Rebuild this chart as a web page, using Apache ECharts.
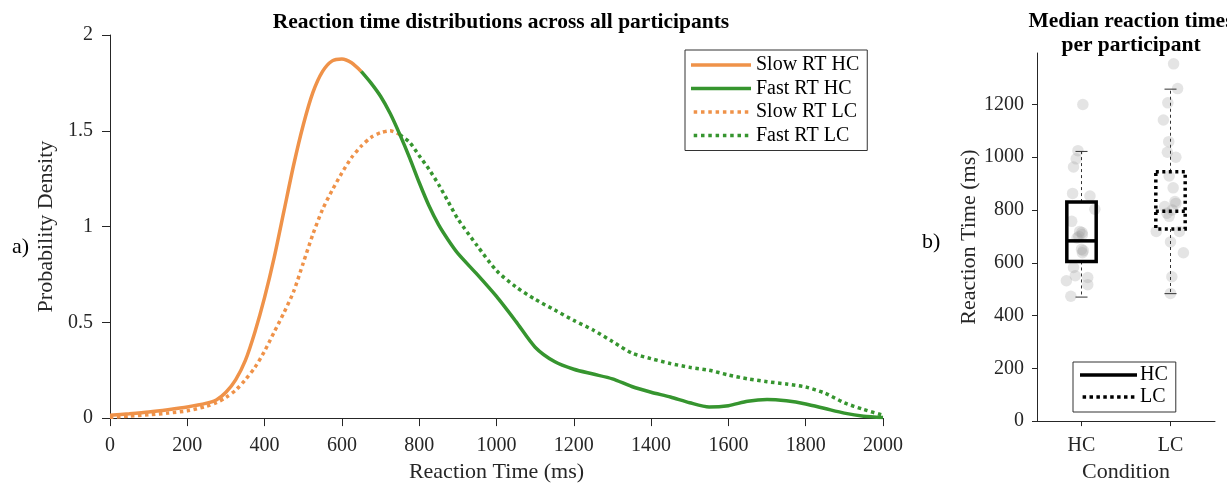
<!DOCTYPE html>
<html>
<head>
<meta charset="utf-8">
<script src="https://cdn.jsdelivr.net/npm/echarts@6/dist/echarts.min.js"></script>
<style>
  html, body { margin: 0; padding: 0; background: #ffffff; }
  #chart { width: 1227px; height: 488px; }
</style>
</head>
<body>
<div id="chart"></div>
<script>
// Reaction-time grid (ms) shared by both density curves
const rtGrid = [0, 50, 100, 150, 200, 250,
  275, 300, 325, 350, 375, 400, 425, 450, 475, 500, 525, 550, 575, 600, 625, 650,
  675, 700, 725, 750, 775, 800, 825, 850, 875, 900,
  950, 1000, 1050, 1100, 1150, 1200, 1250, 1300, 1350, 1400, 1450, 1500, 1550,
  1600, 1650, 1700, 1750, 1800, 1850, 1900, 1950, 2000];

// Probability density, high-confidence trials
const densityHC = [0.015, 0.023, 0.032, 0.044, 0.058, 0.078,
  0.095, 0.135, 0.20, 0.30, 0.45, 0.63, 0.84, 1.08, 1.32, 1.53, 1.70, 1.81, 1.865, 1.875, 1.855, 1.81,
  1.75, 1.68, 1.59, 1.48, 1.36, 1.23, 1.11, 1.01, 0.93, 0.86,
  0.75, 0.635, 0.505, 0.37, 0.295, 0.255, 0.23, 0.205, 0.165, 0.135, 0.11, 0.08, 0.058,
  0.065, 0.088, 0.097, 0.09, 0.074, 0.05, 0.026, 0.01, 0.003];

// Probability density, low-confidence trials
const densityLC = [0.004, 0.01, 0.017, 0.026, 0.038, 0.062,
  0.08, 0.108, 0.145, 0.20, 0.265, 0.35, 0.45, 0.55, 0.66, 0.81, 0.96, 1.09, 1.19, 1.28, 1.36, 1.42,
  1.465, 1.49, 1.50, 1.48, 1.44, 1.37, 1.30, 1.22, 1.13, 1.04,
  0.90, 0.77, 0.685, 0.62, 0.565, 0.51, 0.46, 0.40, 0.34, 0.31, 0.285, 0.265, 0.25,
  0.225, 0.205, 0.19, 0.178, 0.162, 0.13, 0.08, 0.045, 0.015];

// Median split between slow and fast responses (ms)
const splitHC = 650;
const splitLC = 750;

const xTicks = [0, 200, 400, 600, 800, 1000, 1200, 1400, 1600, 1800, 2000];
const conditions = ['HC', 'LC'];

// Per-participant median RTs (ms) and horizontal jitter (category units)
const medianHC = [1200, 1025, 994, 963, 863, 853, 803, 757, 719, 715, 707, 700, 694, 651, 646, 638, 582, 551, 544, 532, 517, 473];
const jitterHC = [0.015, -0.04, -0.06, -0.09, -0.10, 0.095, 0.15, -0.11, -0.02, 0.005, 0.01, -0.03, -0.05, 0.0, 0.02, 0.01, -0.09, -0.07, 0.07, -0.17, 0.07, -0.12];
const medianLC = [1354, 1260, 1206, 1141, 1059, 1019, 1000, 929, 884, 832, 825, 813, 800, 788, 776, 719, 719, 679, 638, 547, 484];
const jitterLC = [0.035, 0.08, -0.03, -0.08, -0.02, -0.035, 0.06, -0.015, 0.03, 0.05, 0.06, -0.065, 0.02, -0.04, -0.015, -0.16, 0.10, 0.0, 0.145, 0.015, 0.0];

// Box statistics: [lower whisker, Q1, median, Q3, upper whisker]
const boxHC = [470, 605, 683, 830, 1022];
const boxLC = [483, 728, 795, 945, 1258];

const rightTicks = [0, 200, 400, 600, 800, 1000, 1200];

const ORANGE = '#EF9249';
const GREEN = '#36952F';
const INK = '#262626';
const SERIF = '"Liberation Serif", "Times New Roman", serif';

function segment(ys, from, to) {
  const out = [];
  rtGrid.forEach((x, i) => { if (x >= from && x <= to) out.push([x, ys[i]]); });
  return out;
}

function lineSeries(name, data, color, type) {
  return {
    name, type: 'line', xAxisIndex: 0, yAxisIndex: 0,
    data, smooth: 0.25, symbol: 'none', silent: true,
    lineStyle: { color, width: 3.5, type, cap: 'butt' },
    itemStyle: { color },
    z: type === 'solid' ? 4 : 3
  };
}

function boxRenderer(dash) {
  return function (params, api) {
    const x = api.value(0);
    const lo = api.coord([x, api.value(1)]);
    const q1 = api.coord([x, api.value(2)]);
    const md = api.coord([x, api.value(3)]);
    const q3 = api.coord([x, api.value(4)]);
    const hi = api.coord([x, api.value(5)]);
    const cx = lo[0];
    const half = api.size([1, 0])[0] * 0.165;
    const whisker = { stroke: '#333', lineWidth: 1, lineDash: [3, 3] };
    const cap = { stroke: '#333', lineWidth: 1 };
    const boxStyle = { stroke: '#000', lineWidth: 3.5, fill: null, lineDash: dash, lineCap: 'butt' };
    return {
      type: 'group',
      children: [
        { type: 'line', shape: { x1: cx, y1: q3[1], x2: cx, y2: hi[1] }, style: whisker },
        { type: 'line', shape: { x1: cx, y1: q1[1], x2: cx, y2: lo[1] }, style: whisker },
        { type: 'line', shape: { x1: cx - 6, y1: hi[1], x2: cx + 6, y2: hi[1] }, style: cap },
        { type: 'line', shape: { x1: cx - 6, y1: lo[1], x2: cx + 6, y2: lo[1] }, style: cap },
        { type: 'rect', shape: { x: cx - half, y: q3[1], width: 2 * half, height: q1[1] - q3[1] }, style: boxStyle },
        { type: 'line', shape: { x1: cx - half, y1: md[1], x2: cx + half, y2: md[1] }, style: boxStyle }
      ]
    };
  };
}

// Legend keys: a solid bar and a row of square dots
function dotsPath(len, size, step) {
  let d = 'path://';
  for (let x = 0; x + size <= len + 0.01; x += step) d += 'M' + x.toFixed(1) + ',0h' + size + 'v' + size + 'h-' + size + 'z';
  return d;
}
const solidKey = 'path://M0,0h60v3.5h-60z';
const dottedKey = dotsPath(60, 3.5, 7.3);
const solidKeyBox = 'path://M0,0h57v3.5h-57z';
const dottedKeyBox = dotsPath(57, 3.5, 6.9);

const plain = v => String(v);
const axisText = { color: INK, fontFamily: SERIF, fontSize: 20 };
const nameText = { color: INK, fontFamily: SERIF, fontSize: 22 };

const chart = echarts.init(document.getElementById('chart'), null, { renderer: 'canvas' });

chart.setOption({
  animation: false,
  backgroundColor: '#ffffff',
  title: [
    {
      text: 'Reaction time distributions across all participants',
      left: 496, top: 6, textAlign: 'center',
      textStyle: { fontFamily: SERIF, fontSize: 21.5, fontWeight: 'bold', color: '#000' }
    },
    {
      text: 'Median reaction times\nper participant',
      left: 1126, top: 4, textAlign: 'center',
      textStyle: { fontFamily: SERIF, fontSize: 21.5, fontWeight: 'bold', color: '#000', lineHeight: 24 }
    }
  ],
  grid: [
    { left: 110, top: 35, width: 773, height: 388 },
    { left: 1037, top: 53, width: 178, height: 374 }
  ],
  legend: [
    {
      orient: 'vertical', left: 685, top: 50,
      data: [
        { name: 'Slow RT HC', icon: solidKey },
        { name: 'Fast RT HC', icon: solidKey },
        { name: 'Slow RT LC', icon: dottedKey },
        { name: 'Fast RT LC', icon: dottedKey }
      ],
      itemWidth: 60, itemHeight: 3.5, itemGap: 3.5,
      padding: [5, 8, 5, 6],
      borderColor: '#333', borderWidth: 1,
      textStyle: { fontFamily: SERIF, fontSize: 20, color: '#000', lineHeight: 20 },
      selectedMode: false
    },
    {
      orient: 'vertical', left: 1073, top: 362,
      data: [
        { name: 'HC', icon: solidKeyBox, itemStyle: { color: '#000' } },
        { name: 'LC', icon: dottedKeyBox, itemStyle: { color: '#000' } }
      ],
      itemWidth: 57, itemHeight: 3.5, itemGap: 2,
      padding: [3, 8, 5, 7],
      borderColor: '#333', borderWidth: 1,
      textStyle: { fontFamily: SERIF, fontSize: 20, color: '#000', lineHeight: 20, padding: [0, 0, 0, -2] },
      selectedMode: false
    }
  ],
  xAxis: [
    {
      type: 'value', gridIndex: 0, min: 0, max: 2000, interval: 200,
      name: 'Reaction Time (ms)', nameLocation: 'middle', nameGap: 40, nameTextStyle: nameText,
      axisLine: { lineStyle: { color: INK, width: 1 } },
      axisTick: { show: true, length: 8, lineStyle: { color: INK }, customValues: xTicks },
      axisLabel: Object.assign({ margin: 18, customValues: xTicks, formatter: plain }, axisText),
      splitLine: { show: false }
    },
    {
      type: 'category', gridIndex: 1, data: conditions, boundaryGap: true,
      name: 'Condition', nameLocation: 'middle', nameGap: 35, nameTextStyle: nameText,
      axisLine: { lineStyle: { color: INK, width: 1 } },
      axisTick: { show: true, length: 5, alignWithLabel: true, lineStyle: { color: INK } },
      axisLabel: Object.assign({ margin: 15 }, axisText),
      splitLine: { show: false }
    },
    {
      type: 'value', gridIndex: 1, min: 0.5, max: 2.5, show: false
    }
  ],
  yAxis: [
    {
      type: 'value', gridIndex: 0, min: 0, max: 2, interval: 0.5,
      name: 'Probability Density', nameLocation: 'middle', nameGap: 40, nameTextStyle: nameText,
      axisLine: { show: true, lineStyle: { color: INK, width: 1 } },
      axisTick: { show: true, length: 8, lineStyle: { color: INK } },
      axisLabel: Object.assign({ margin: 17, formatter: plain }, axisText),
      splitLine: { show: false }
    },
    {
      type: 'value', gridIndex: 1, min: 0, max: 1395,
      name: 'Reaction Time (ms)', nameLocation: 'middle', nameGap: 54, nameTextStyle: nameText,
      axisLine: { show: true, lineStyle: { color: INK, width: 1 } },
      axisTick: { show: true, length: 5, lineStyle: { color: INK }, customValues: rightTicks },
      axisLabel: Object.assign({ margin: 13, customValues: rightTicks, formatter: plain }, axisText),
      splitLine: { show: false }
    }
  ],
  series: [
    lineSeries('Slow RT HC', segment(densityHC, 0, splitHC), ORANGE, 'solid'),
    lineSeries('Fast RT HC', segment(densityHC, splitHC, 2000), GREEN, 'solid'),
    lineSeries('Slow RT LC', segment(densityLC, 0, splitLC), ORANGE, 'dotted'),
    lineSeries('Fast RT LC', segment(densityLC, splitLC, 2000), GREEN, 'dotted'),
    {
      name: 'HC participants', type: 'scatter', xAxisIndex: 2, yAxisIndex: 1,
      data: medianHC.map((v, i) => [1 + jitterHC[i], v]),
      symbol: 'circle', symbolSize: 11.5, silent: true,
      itemStyle: { color: 'rgba(150,150,150,0.32)' }, z: 2
    },
    {
      name: 'LC participants', type: 'scatter', xAxisIndex: 2, yAxisIndex: 1,
      data: medianLC.map((v, i) => [2 + jitterLC[i], v]),
      symbol: 'circle', symbolSize: 11.5, silent: true,
      itemStyle: { color: 'rgba(150,150,150,0.32)' }, z: 2
    },
    {
      name: 'HC', type: 'custom', xAxisIndex: 1, yAxisIndex: 1,
      data: [[0].concat(boxHC)], encode: { x: 0, y: [1, 2, 3, 4, 5] },
      renderItem: boxRenderer(null), itemStyle: { color: '#000' }, silent: true, z: 5
    },
    {
      name: 'LC', type: 'custom', xAxisIndex: 1, yAxisIndex: 1,
      data: [[1].concat(boxLC)], encode: { x: 0, y: [1, 2, 3, 4, 5] },
      renderItem: boxRenderer([3, 3.5]), itemStyle: { color: '#000' }, silent: true, z: 5
    }
  ],
  graphic: [
    { type: 'text', left: 12, top: 236, style: { text: 'a)', font: '22px ' + SERIF, fill: '#000' } },
    { type: 'text', left: 922, top: 231, style: { text: 'b)', font: '22px ' + SERIF, fill: '#000' } }
  ]
});
</script>
</body>
</html>
